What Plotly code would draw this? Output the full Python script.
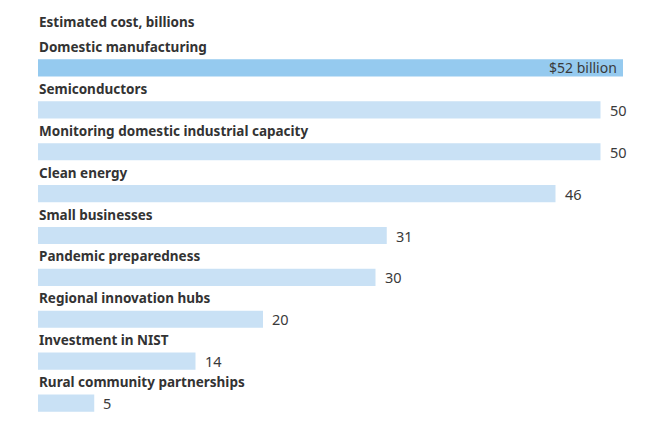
import plotly.graph_objects as go

title_text = "Estimated cost, billions"
categories = [
    "Domestic manufacturing",
    "Semiconductors",
    "Monitoring domestic industrial capacity",
    "Clean energy",
    "Small businesses",
    "Pandemic preparedness",
    "Regional innovation hubs",
    "Investment in NIST",
    "Rural community partnerships",
]
values = [52, 50, 50, 46, 31, 30, 20, 14, 5]
value_labels = ["$52 billion", "50", "50", "46", "31", "30", "20", "14", "5"]

HILITE = "#95CAEF"
LIGHT = "#C9E1F5"
TEXT = "#333333"
FONT = "Noto Sans"

colors = [HILITE] + [LIGHT] * (len(values) - 1)

fig = go.Figure(
    go.Bar(
        x=values,
        y=categories,
        orientation="h",
        marker=dict(color=colors, line=dict(width=0)),
        width=0.41,
        hoverinfo="skip",
    )
)

annotations = []
for i, (cat, v, lab) in enumerate(zip(categories, values, value_labels)):
    annotations.append(dict(
        x=0, y=cat, xref="x", yref="y", text="<b>" + cat + "</b>",
        xanchor="left", yanchor="middle", yshift=21, xshift=-1,
        showarrow=False, font=dict(family=FONT, size=13.5, color=TEXT),
    ))
    if i == 0:
        annotations.append(dict(
            x=v, y=cat, xref="x", yref="y", text=lab,
            xanchor="right", yanchor="middle", xshift=-4,
            showarrow=False, font=dict(family=FONT, size=14, color="#3a3a3a"),
        ))
    else:
        annotations.append(dict(
            x=v, y=cat, xref="x", yref="y", text=lab,
            xanchor="left", yanchor="middle", xshift=7,
            showarrow=False, font=dict(family=FONT, size=14.5, color="#3a3a3a"),
        ))

annotations.append(dict(
    x=0, y=categories[0], xref="x", yref="y", text="<b>" + title_text + "</b>",
    xanchor="left", yanchor="middle", yshift=46, xshift=-1,
    showarrow=False, font=dict(family=FONT, size=13.5, color=TEXT),
))

fig.update_layout(
    width=655, height=418,
    margin=dict(l=30, r=40, t=39, b=2),
    paper_bgcolor="white", plot_bgcolor="white",
    showlegend=False,
    xaxis=dict(range=[0, 52], visible=False, fixedrange=True),
    yaxis=dict(autorange=False, range=[len(categories) - 0.5, -0.5], visible=False,
               type="category", fixedrange=True),
    annotations=annotations,
    font=dict(family=FONT),
)

fig.write_html("out.html", config={"displayModeBar": False})
